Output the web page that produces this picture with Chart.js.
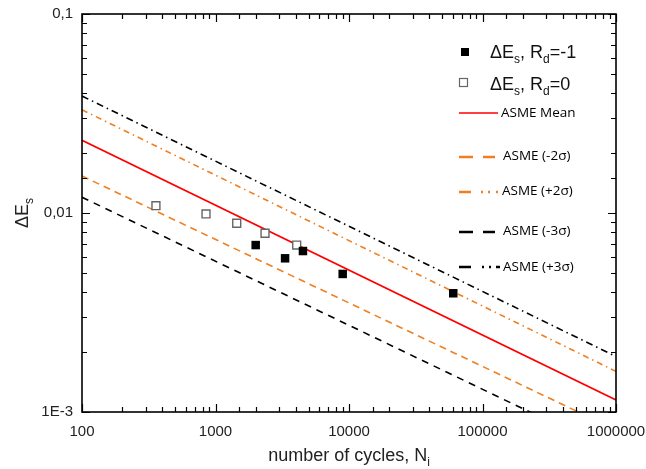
<!DOCTYPE html>
<html>
<head>
<meta charset="utf-8">
<script src="https://cdn.jsdelivr.net/npm/chart.js@4"></script>
<style>
  html, body { margin: 0; padding: 0; background: #fff; }
  #wrap { width: 646px; height: 469px; }
</style>
</head>
<body>
<div id="wrap"><canvas id="snChart"></canvas></div>
<script>
// strain range vs. cycles to failure
const rdMinus1N = [2000, 3320, 4520, 8970, 60400];
const rdMinus1E = [0.0069, 0.00592, 0.00644, 0.00494, 0.00395];
const rd0N = [358, 849, 1442, 2349, 4057];
const rd0E = [0.01088, 0.00989, 0.00888, 0.00791, 0.0069];

// ASME design curves, end points at N = 100 and N = 1e6
const asmeN = [100, 1000000];
const asmeMean = [0.0232, 0.00115];
const asmeMinus2 = [0.01535, 0.000813];
const asmePlus2 = [0.033, 0.0016];
const asmeMinus3 = [0.012, 0.00062];
const asmePlus3 = [0.0387, 0.0019];

const xTickLabels = ['100', '1000', '10000', '100000', '1000000'];
const yTickLabels = ['1E-3', '0,01', '0,1'];

const ORANGE = '#f07f20';
const FONT = "'Liberation Sans', Arial, sans-serif";

const pts = (xs, ys) => xs.map((x, i) => ({ x: x, y: ys[i] }));
const decade = (v) => {
    const e = Math.log10(v);
    const r = Math.round(e);
    return Math.abs(e - r) < 1e-6 ? r : null;
};

const curve = (data, color, dash) => ({
    data: data,
    showLine: true,
    borderColor: color,
    borderWidth: 1.6,
    borderDash: dash,
    pointRadius: 0,
    fill: false
});

// writes text with optional subscript pieces, returns end x
function richText(ctx, parts, x, y, size, subSize) {
    parts.forEach(([txt, sub]) => {
        ctx.font = (sub ? subSize : size) + 'px ' + FONT;
        ctx.fillText(txt, x, sub ? y + size * 0.28 : y);
        x += ctx.measureText(txt).width;
    });
    return x;
}
function richWidth(ctx, parts, size, subSize) {
    let w = 0;
    parts.forEach(([txt, sub]) => {
        ctx.font = (sub ? subSize : size) + 'px ' + FONT;
        w += ctx.measureText(txt).width;
    });
    return w;
}

const decorations = {
    id: 'decorations',
    afterDraw(chart) {
        const { ctx, chartArea: a, scales: { x, y } } = chart;
        ctx.save();

        // tick marks pointing inward on all four sides
        ctx.strokeStyle = '#000';
        ctx.lineWidth = 1.2;
        ctx.beginPath();
        x.ticks.forEach(t => {
            const px = Math.round(x.getPixelForValue(t.value)) + 0.5;
            const len = decade(t.value) !== null ? 8 : 5;
            ctx.moveTo(px, a.bottom); ctx.lineTo(px, a.bottom - len);
            ctx.moveTo(px, a.top); ctx.lineTo(px, a.top + len);
        });
        y.ticks.forEach(t => {
            const py = Math.round(y.getPixelForValue(t.value)) + 0.5;
            const len = decade(t.value) !== null ? 8 : 5;
            ctx.moveTo(a.left, py); ctx.lineTo(a.left + len, py);
            ctx.moveTo(a.right, py); ctx.lineTo(a.right - len, py);
        });
        ctx.stroke();

        // frame
        ctx.lineWidth = 1.6;
        ctx.strokeRect(a.left, a.top, a.right - a.left, a.bottom - a.top);

        // axis titles
        ctx.fillStyle = '#222';
        ctx.textBaseline = 'alphabetic';
        ctx.textAlign = 'left';
        const xt = [['number of cycles, N', false], ['i', true]];
        const xw = richWidth(ctx, xt, 18, 12);
        richText(ctx, xt, (a.left + a.right) / 2 - xw / 2, 461, 18, 12);

        ctx.save();
        ctx.translate(28, (a.top + a.bottom) / 2);
        ctx.rotate(-Math.PI / 2);
        const yt = [['\u0394E', false], ['s', true]];
        const yw = richWidth(ctx, yt, 18, 12);
        richText(ctx, yt, -yw / 2, 0, 18, 12);
        ctx.restore();

        // legend
        ctx.fillStyle = '#000';
        ctx.fillRect(461, 48, 8, 8);
        ctx.fillStyle = '#fff';
        ctx.strokeStyle = '#666';
        ctx.lineWidth = 1.2;
        ctx.strokeRect(459.5, 78.5, 8, 8);
        ctx.fillStyle = '#111';
        richText(ctx, [['\u0394E', false], ['s', true], [', R', false], ['d', true], ['=-1', false]], 490, 58, 18, 12);
        richText(ctx, [['\u0394E', false], ['s', true], [', R', false], ['d', true], ['=0', false]], 490, 90, 18, 12);

        const seg = (color, w, y0, pieces) => {
            ctx.strokeStyle = color;
            ctx.lineWidth = w;
            ctx.beginPath();
            pieces.forEach(([x0, x1]) => { ctx.moveTo(x0, y0); ctx.lineTo(x1, y0); });
            ctx.stroke();
        };
        seg('#ff0000', 1.6, 113, [[459, 498]]);
        seg(ORANGE, 2.6, 157, [[459, 473], [483, 495]]);
        seg(ORANGE, 2.6, 192, [[459, 471], [481, 483], [488, 490], [496, 498]]);
        seg('#000', 2.6, 232, [[459, 473], [483, 495]]);
        seg('#000', 2.6, 267, [[459, 471], [482, 484], [489, 491], [496, 500]]);

        ctx.fillStyle = '#000';
        ctx.textBaseline = 'middle';
        ctx.font = "13.5px 'Open Sans', sans-serif";
        ctx.fillText('ASME Mean', 501, 113);
        ctx.fillText('ASME (-2\u03c3)', 503, 156);
        ctx.fillText('ASME (+2\u03c3)', 502, 191);
        ctx.fillText('ASME (-3\u03c3)', 503, 231);
        ctx.fillText('ASME (+3\u03c3)', 503, 267);

        ctx.restore();
    }
};

new Chart(document.getElementById('snChart'), {
    type: 'scatter',
    data: {
        datasets: [
            {
                data: pts(rdMinus1N, rdMinus1E),
                pointStyle: 'rect',
                pointRadius: 6,
                backgroundColor: '#000',
                borderColor: '#000',
                borderWidth: 0
            },
            {
                data: pts(rd0N, rd0E),
                pointStyle: 'rect',
                pointRadius: 5.6,
                backgroundColor: '#fff',
                borderColor: '#666',
                borderWidth: 1.4
            },
            curve(pts(asmeN, asmeMean), '#ff0000', []),
            curve(pts(asmeN, asmeMinus2), ORANGE, [7, 5]),
            curve(pts(asmeN, asmePlus2), ORANGE, [6, 4, 1.5, 4]),
            curve(pts(asmeN, asmeMinus3), '#000', [7, 6]),
            curve(pts(asmeN, asmePlus3), '#000', [7, 4, 1.5, 4])
        ]
    },
    options: {
        responsive: true,
        maintainAspectRatio: false,
        animation: false,
        layout: { padding: { top: 14, right: 30, left: 0, bottom: 0 } },
        plugins: {
            legend: { display: false },
            tooltip: { enabled: false }
        },
        scales: {
            x: {
                type: 'logarithmic',
                min: 100,
                max: 1000000,
                grid: { display: false, drawTicks: false },
                border: { display: false },
                afterFit: (scale) => {
                    scale.height = 57;
                    scale.paddingLeft = 0;
                    scale.paddingRight = 0;
                },
                ticks: {
                    autoSkip: false,
                    maxRotation: 0,
                    padding: 11,
                    color: '#222',
                    font: { family: FONT, size: 15 },
                    callback: function(value) {
                        const d = decade(value);
                        return d === null ? '' : xTickLabels[d - 2];
                    }
                }
            },
            y: {
                type: 'logarithmic',
                min: 0.001,
                max: 0.1,
                grid: { display: false, drawTicks: false },
                border: { display: false },
                afterFit: (scale) => {
                    scale.width = 82;
                    scale.paddingTop = 0;
                    scale.paddingBottom = 0;
                },
                ticks: {
                    autoSkip: false,
                    padding: 9,
                    color: '#222',
                    font: { family: FONT, size: 15 },
                    callback: function(value) {
                        const d = decade(value);
                        return d === null ? '' : yTickLabels[d + 3];
                    }
                }
            }
        }
    },
    plugins: [decorations]
});
</script>
</body>
</html>
